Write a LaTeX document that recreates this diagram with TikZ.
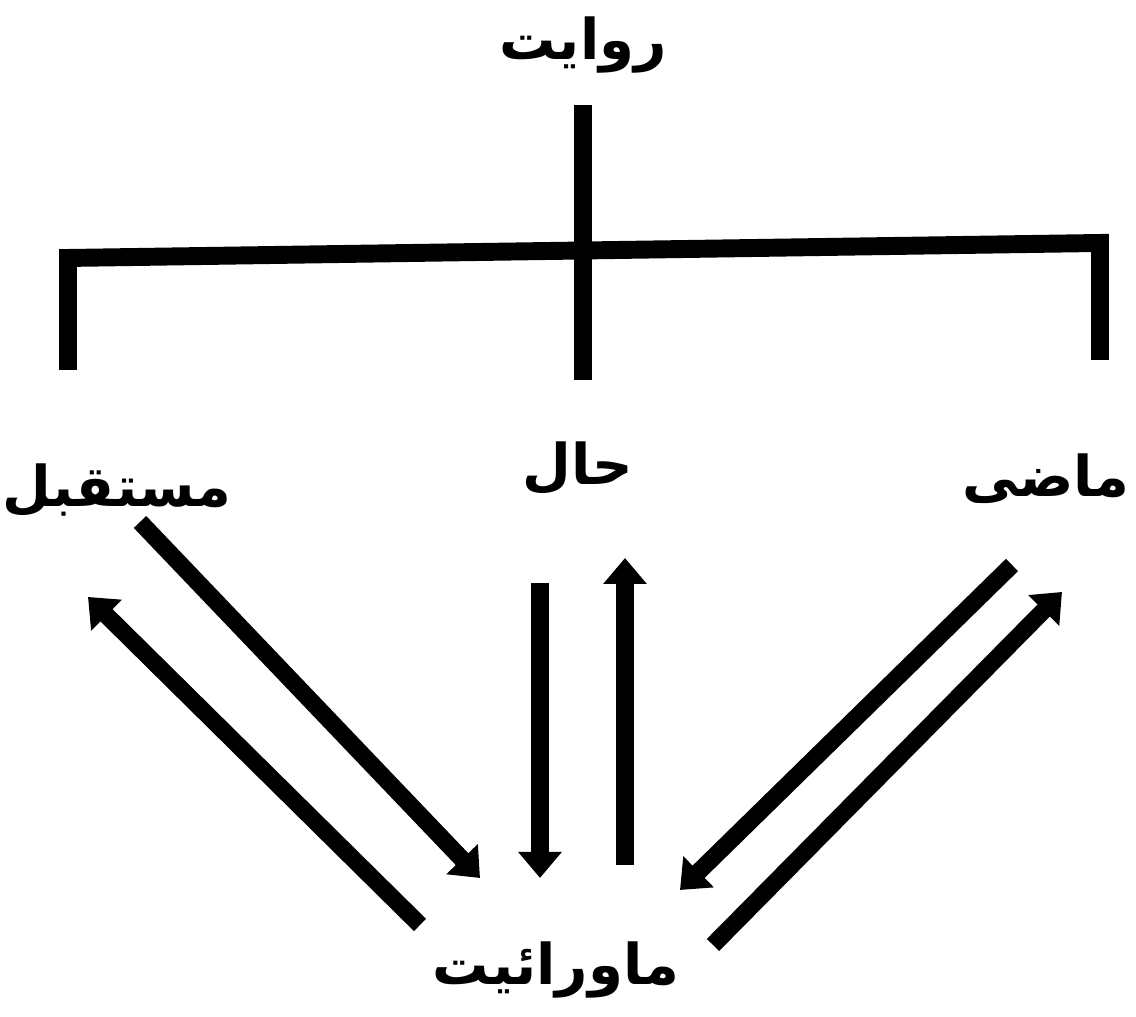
\documentclass[tikz,border=0pt]{standalone}
\usepackage{fontspec}
\TeXXeTstate=1
\newfontfamily\urdufont[Script=Arabic]{DejaVu Sans}
\usetikzlibrary{arrows.meta}

\begin{document}
\begin{tikzpicture}[
  x=1cm,y=1cm,
  word/.style={font=\urdufont\bfseries\fontsize{16}{20}\selectfont, inner sep=1pt},
  branch/.style={black, line width=5.1pt},
  flow/.style={black, line width=4.9pt, -{Triangle[length=2.6mm,width=4.2mm]}}
]
\useasboundingbox (0,0) rectangle (11.36,10.17);

% ----------------------------- Labels -----------------------------
\node[word] (riwayat) at (5.83,9.72) {\beginR روایت\endR};
\node[word] (mustaqbil) at (1.17,5.27) {\beginR مستقبل\endR};
\node[word] (hal) at (5.78,5.49) {\beginR حال\endR};
\node[word, anchor=east] (mazi) at (11.34,5.38) {\beginR ماضی\endR};
\node[word] (mavraiyat) at (5.56,0.47) {\beginR ماورائیت\endR};

% ----------------------------- Tree -----------------------------
\coordinate (stemtop) at (5.83,9.12);
\coordinate (stembot) at (5.83,6.37);
\coordinate (legL) at (0.68,6.47);
\coordinate (barL) at (0.68,7.59);
\coordinate (barR) at (11.00,7.74);
\coordinate (legR) at (11.00,6.57);
\draw[branch] (stemtop) -- (stembot);
\draw[branch, line join=miter] (legL) -- (barL) -- (barR) -- (legR);

% ----------------------------- Arrows -----------------------------
\coordinate (fut-out) at (1.40,4.95);
\coordinate (fut-tip) at (4.80,1.39);
\coordinate (fut-back) at (4.20,0.92);
\coordinate (fut-in) at (0.88,4.20);
\draw[flow] (fut-out) -- (fut-tip);
\draw[flow] (fut-back) -- (fut-in);

\coordinate (hal-out) at (5.40,4.34);
\coordinate (hal-tip) at (5.40,1.39);
\coordinate (hal-back) at (6.25,1.52);
\coordinate (hal-in) at (6.25,4.59);
\draw[flow] (hal-out) -- (hal-tip);
\draw[flow] (hal-back) -- (hal-in);

\coordinate (past-out) at (10.12,4.52);
\coordinate (past-tip) at (6.80,1.27);
\coordinate (past-back) at (7.13,0.72);
\coordinate (past-in) at (10.62,4.25);
\draw[flow] (past-out) -- (past-tip);
\draw[flow] (past-back) -- (past-in);

\end{tikzpicture}
\end{document}
